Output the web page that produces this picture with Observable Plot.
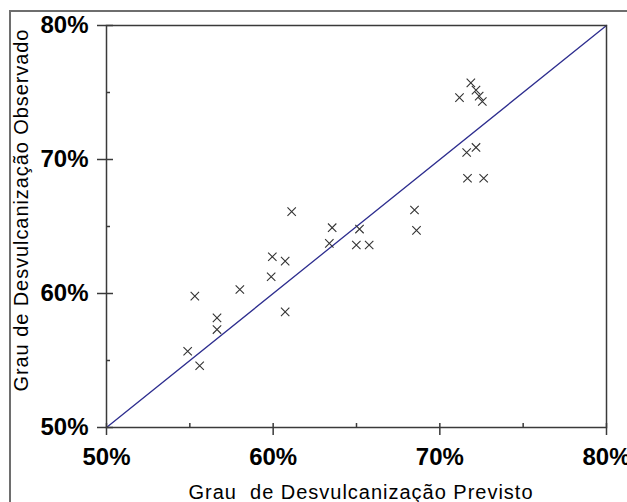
<!DOCTYPE html>
<html><head><meta charset="utf-8">
<script src="https://cdn.jsdelivr.net/npm/d3@7"></script>
<script src="https://cdn.jsdelivr.net/npm/@observablehq/plot@0.6"></script>
<style>
html,body{margin:0;padding:0;background:#fff;overflow:hidden;width:627px;height:502px;}
#wrap{position:relative;width:627px;height:502px;}
#border{position:absolute;left:9px;top:10px;width:700px;height:600px;border:2px solid #6e6e6e;box-sizing:border-box;}
#chart{position:absolute;left:0;top:0;}
#chart svg{white-space:pre;}
</style></head><body>
<div id="wrap"><div id="border"></div><div id="chart"></div></div>
<script>
// Grau de desvulcanização previsto (x) e observado (y), em %
const predicted = [71.18, 71.86, 72.17, 72.36, 72.55, 71.61, 72.17, 71.66, 72.63, 68.48, 68.60, 63.54, 63.37, 65.18, 64.99, 65.76, 61.11, 59.95, 60.72, 59.88, 60.72, 58.00, 55.30, 56.63, 56.63, 54.87, 55.59];
const observed  = [74.62, 75.72, 75.18, 74.73, 74.33, 70.52, 70.90, 68.60, 68.60, 66.23, 64.71, 64.91, 63.74, 64.81, 63.62, 63.62, 66.11, 62.74, 62.42, 61.25, 58.63, 60.30, 59.80, 58.18, 57.31, 55.69, 54.61];
const majorTicks = [50, 60, 70, 80];
const minorTicks = [55, 65, 75];
const tickLabels = ["50%", "60%", "70%", "80%"];
const identityLine = [50, 80];
const xTitle = "Grau  de Desvulcanização Previsto";
const yTitle = "Grau de Desvulcanização Observado";

const W = 627, H = 502, mL = 106, mR = 21, mT = 25, mB = 75;
const plotW = W - mL - mR, plotH = H - mT - mB;
const points = predicted.map((x, i) => ({x, y: observed[i]}));
const fmt = d => tickLabels[majorTicks.indexOf(d)];
const axisColor = "#3a3a3a";

const chart = Plot.plot({
  width: W, height: H,
  marginLeft: mL, marginRight: mR, marginTop: mT, marginBottom: mB,
  style: {fontFamily: "'Liberation Sans', Arial, sans-serif", background: "transparent", overflow: "visible"},
  x: {domain: [50, 80]},
  y: {domain: [50, 80]},
  marks: [
    Plot.line(identityLine, {x: d => d, y: d => d, stroke: "#2e2e8f", strokeWidth: 1.3}),
    Plot.dot(points, {x: "x", y: "y", symbol: "times", r: 3.9, stroke: "#333", strokeWidth: 1.1}),
    Plot.tickX(minorTicks, {x: d => d, insetTop: plotH - 4, stroke: axisColor, strokeWidth: 1.5}),
    Plot.tickX(majorTicks, {x: d => d, insetTop: plotH - 4, stroke: axisColor, strokeWidth: 1.5}),
    Plot.tickY(minorTicks, {y: d => d, insetRight: plotW - 4, stroke: axisColor, strokeWidth: 1.5}),
    Plot.tickY(majorTicks, {y: d => d, insetRight: plotW - 7, stroke: axisColor, strokeWidth: 1.5}),
    Plot.axisX({ticks: majorTicks, tickFormat: fmt, tickSize: 8, tickPadding: 12, fontSize: 24, fontWeight: "bold", label: null, stroke: axisColor, strokeWidth: 1.5, fill: "black"}),
    Plot.axisY({ticks: majorTicks, tickFormat: fmt, tickSize: 9, tickPadding: 9, fontSize: 24, fontWeight: "bold", label: null, stroke: axisColor, strokeWidth: 1.5, fill: "black"}),
    Plot.frame({stroke: axisColor, strokeWidth: 1.5}),
    Plot.text([xTitle], {text: d => d, frameAnchor: "bottom", textAnchor: "middle", lineAnchor: "bottom", dx: 4, dy: 71, fontSize: 20, fill: "black"}),
    Plot.text([yTitle], {text: d => d, frameAnchor: "left", textAnchor: "middle", rotate: -90, lineAnchor: "bottom", dx: -79, dy: -16, fontSize: 20, fill: "black"})
  ]
});
chart.querySelectorAll("text").forEach(t => {
  if (t.textContent === xTitle) { t.setAttribute("textLength", "344"); t.setAttribute("lengthAdjust", "spacing"); }
  if (t.textContent === yTitle) { t.setAttribute("textLength", "362"); t.setAttribute("lengthAdjust", "spacing"); }
});
document.getElementById("chart").appendChild(chart);
</script>
</body></html>
